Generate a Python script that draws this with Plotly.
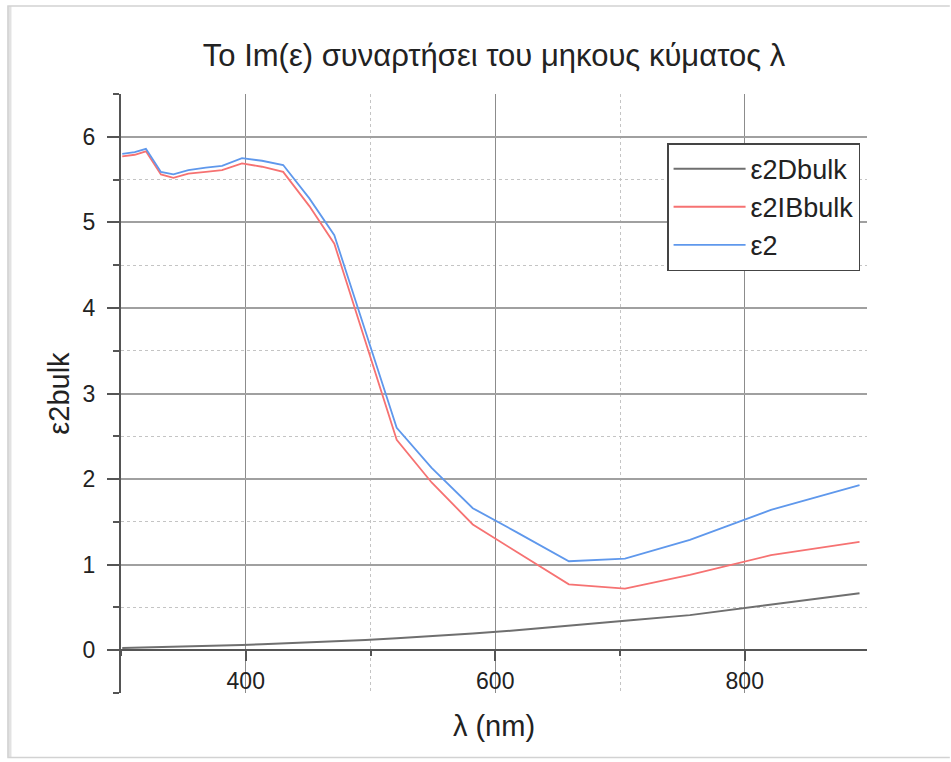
import plotly.graph_objects as go

# Wavelength sampling points (nm)
wavelength = [301, 311, 320, 332, 342, 354, 368, 381, 397, 413, 430, 451,
              471, 496, 521, 549, 582, 617, 659, 704, 756, 821, 892]

# Drude (free-electron) contribution to Im(eps)
eps2_drude = [0.025, 0.028, 0.031, 0.035, 0.038, 0.043, 0.048, 0.054, 0.061,
              0.069, 0.078, 0.090, 0.102, 0.120, 0.140, 0.163, 0.195, 0.232,
              0.283, 0.345, 0.41, 0.53, 0.665]

# Interband contribution to Im(eps)
eps2_interband = [5.77, 5.79, 5.83, 5.56, 5.52, 5.57, 5.59, 5.61, 5.69, 5.65,
                  5.59, 5.19, 4.75, 3.61, 2.46, 1.96, 1.47, 1.15, 0.77, 0.72,
                  0.88, 1.11, 1.265]

# Total Im(eps)
eps2_total = [5.80, 5.82, 5.86, 5.59, 5.56, 5.61, 5.64, 5.66, 5.75, 5.72,
              5.67, 5.28, 4.85, 3.73, 2.60, 2.13, 1.66, 1.38, 1.04, 1.07,
              1.29, 1.64, 1.93]

series_names = ["ε2Dbulk", "ε2IBbulk", "ε2"]

FONT = "Liberation Sans, Arial, sans-serif"

fig = go.Figure()
fig.add_trace(go.Scatter(x=wavelength, y=eps2_drude, mode="lines",
                         name=series_names[0],
                         line=dict(color="#6f6f6f", width=2)))
fig.add_trace(go.Scatter(x=wavelength, y=eps2_interband, mode="lines",
                         name=series_names[1],
                         line=dict(color="#f67272", width=1.8)))
fig.add_trace(go.Scatter(x=wavelength, y=eps2_total, mode="lines",
                         name=series_names[2],
                         line=dict(color="#5f98ec", width=1.8)))

# Light page frame: shaded left edge plus thin top and bottom edges
x_left, y_top, y_bot, x_far = -0.1515, 1.147, -0.1075, 1.111
fig.add_shape(type="line", x0=x_left + 0.002, x1=x_left + 0.002,
              y0=y_bot, y1=y_top, xref="paper", yref="paper",
              line=dict(color="#e2e2e2", width=4), layer="below")
frame_path = (f"M {x_far},{y_top} L {x_left},{y_top} "
              f"L {x_left},{y_bot} L {x_far},{y_bot}")
fig.add_shape(type="path", path=frame_path, xref="paper", yref="paper",
              line=dict(color="#d2d2d2", width=1.5), layer="below")

fig.update_layout(
    width=951, height=762,
    margin=dict(l=121, r=84, t=94, b=69),
    paper_bgcolor="white", plot_bgcolor="white",
    font=dict(family=FONT, color="#222222"),
    title=dict(text="Το Im(ε) συναρτήσει του μηκους κύματος λ",
               x=0.5, xref="paper", xanchor="center",
               y=1 - 55 / 762, yref="container", yanchor="middle",
               font=dict(family=FONT, size=31, color="#222222")),
    showlegend=True,
    legend=dict(x=0.732, y=0.918, xanchor="left", yanchor="top",
                bgcolor="white", bordercolor="#444444", borderwidth=1.5,
                font=dict(family=FONT, size=27, color="#222222"),
                itemwidth=72, tracegroupgap=0),
)

fig.update_xaxes(
    range=[300, 898], anchor="free", position=0.5 / 7,
    title=dict(text="λ (nm)", font=dict(family=FONT, size=29), standoff=22),
    showline=True, linecolor="#555555", linewidth=2,
    ticks="outside", ticklen=10, tickwidth=1.5, tickcolor="#555555",
    tick0=0, dtick=200, tickfont=dict(family=FONT, size=23),
    showgrid=True, gridcolor="#8c8c8c", gridwidth=1,
    zeroline=False,
    minor=dict(dtick=100, tick0=0, ticks="outside", ticklen=5,
               tickwidth=1.5, tickcolor="#555555",
               showgrid=True, gridcolor="#c4c4c4", griddash="dot",
               gridwidth=1),
)

fig.update_yaxes(
    range=[-0.5, 6.5],
    title=dict(text="ε2bulk", font=dict(family=FONT, size=29), standoff=4),
    showline=True, linecolor="#555555", linewidth=2,
    ticks="outside", ticklen=12, tickwidth=1.5, tickcolor="#555555",
    tick0=0, dtick=1, tickfont=dict(family=FONT, size=23),
    ticklabelstandoff=7,
    showgrid=True, gridcolor="#a0a0a0", gridwidth=1.5,
    zeroline=False,
    minor=dict(dtick=0.5, tick0=0, ticks="outside", ticklen=6,
               tickwidth=1.5, tickcolor="#555555",
               showgrid=True, gridcolor="#c4c4c4", griddash="dot",
               gridwidth=1),
)

fig.write_html("out.html")
